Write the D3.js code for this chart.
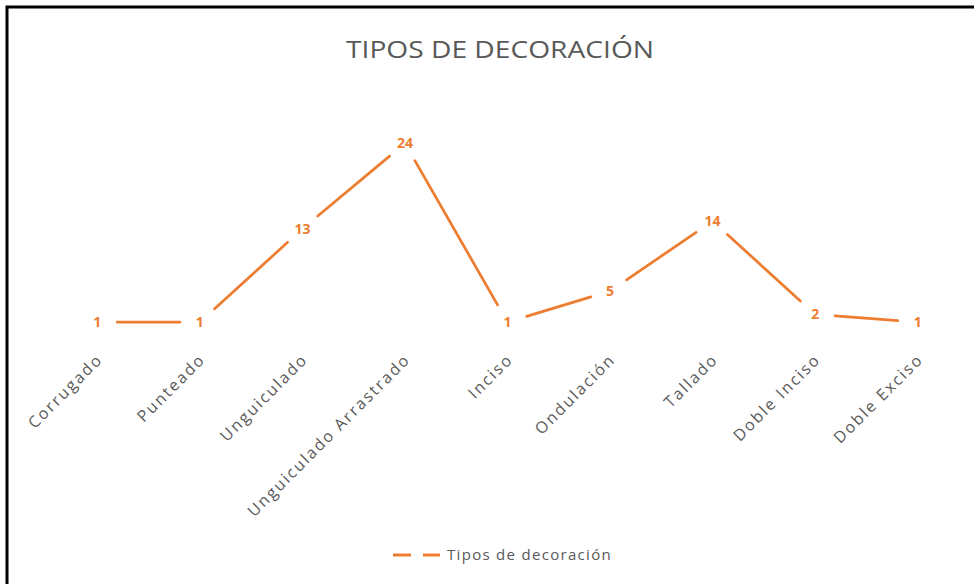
<!DOCTYPE html>
<html>
<head>
<meta charset="utf-8">
<script src="https://cdn.jsdelivr.net/npm/d3@7/dist/d3.min.js"></script>
<style>
  html, body { margin: 0; padding: 0; background: #fff; }
  svg { display: block; }
  text { font-family: "Open Sans", "Noto Sans", sans-serif; }
</style>
</head>
<body>
<svg id="chart" width="974" height="584"></svg>
<script>
// Categories and counts for each decoration type
const categories = [
  "Corrugado", "Punteado", "Unguiculado", "Unguiculado Arrastrado",
  "Inciso", "Ondulación", "Tallado", "Doble Inciso", "Doble Exciso"
];
const counts = [1, 1, 13, 24, 1, 5, 14, 2, 1];
const seriesName = "Tipos de decoración";
const chartTitle = "TIPOS DE DECORACIÓN";

const orange = "#ED7D31";
const gray = "#595959";

const svg = d3.select("#chart");

// Frame: only top and left edges fall inside the view
svg.append("path")
  .attr("d", "M7,590 L7,7 L980,7")
  .attr("fill", "none")
  .attr("stroke", "#000")
  .attr("stroke-width", 3);

// Title
svg.append("text")
  .attr("x", 500)
  .attr("y", 58)
  .attr("text-anchor", "middle")
  .attr("fill", gray)
  .attr("font-size", 24)
  .attr("textLength", 308)
  .attr("lengthAdjust", "spacingAndGlyphs")
  .text(chartTitle);

// Scales
const x = d3.scaleBand()
  .domain(categories)
  .range([46, 969]);
const y = d3.scaleLinear()
  .domain([0, 30])
  .range([330, 96.6]);

const cx = c => x(c) + x.bandwidth() / 2;

const pts = categories.map((c, i) => ({ c, v: counts[i], px: cx(c), py: y(counts[i]) }));

// Line segments, each stopped short of the data labels at both ends
const gap = 20;
const segs = d3.pairs(pts).map(([a, b]) => {
  const dx = b.px - a.px, dy = b.py - a.py;
  const len = Math.hypot(dx, dy);
  const ux = dx / len, uy = dy / len;
  return [[a.px + ux * gap, a.py + uy * gap], [b.px - ux * gap, b.py - uy * gap]];
});

svg.append("g")
  .selectAll("path")
  .data(segs)
  .join("path")
  .attr("d", d => d3.line()(d))
  .attr("fill", "none")
  .attr("stroke", orange)
  .attr("stroke-width", 2.75)
  .attr("stroke-linecap", "round");

// Data labels centered on the points
svg.append("g")
  .selectAll("text")
  .data(pts)
  .join("text")
  .attr("x", d => d.px)
  .attr("y", d => d.py)
  .attr("dy", "0.35em")
  .attr("text-anchor", "middle")
  .attr("fill", orange)
  .attr("font-size", 14)
  .attr("font-weight", 700)
  .text(d => d.v);

// Category axis (no line, no ticks), labels rotated 45°
const xAxis = svg.append("g")
  .attr("transform", "translate(0,330)")
  .call(d3.axisBottom(x).tickSize(0).tickPadding(0));
xAxis.select(".domain").remove();
xAxis.selectAll("text")
  .attr("fill", gray)
  .attr("font-size", 16)
  .attr("letter-spacing", "2px")
  .attr("font-family", "'Open Sans', 'Noto Sans', sans-serif")
  .attr("text-anchor", "end")
  .attr("dy", "0.35em")
  .attr("transform", "translate(1,28) rotate(-45) translate(2,0)");

// Legend
const legend = svg.append("g").attr("transform", "translate(393,555)");
legend.append("line")
  .attr("x1", 0).attr("x2", 47)
  .attr("y1", 0).attr("y2", 0)
  .attr("stroke", orange)
  .attr("stroke-width", 3)
  .attr("stroke-dasharray", "18,12");
legend.append("text")
  .attr("x", 54)
  .attr("y", 0)
  .attr("dy", "0.35em")
  .attr("fill", gray)
  .attr("font-size", 15)
  .attr("letter-spacing", "1.3px")
  .text(seriesName);
</script>
</body>
</html>
